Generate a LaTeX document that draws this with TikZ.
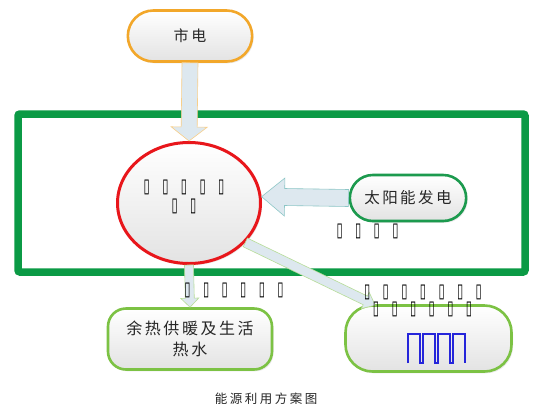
\documentclass[tikz,border=0pt]{standalone}
\usepackage{fontspec}
\setmainfont{Liberation Serif}
\newfontfamily\cjk{Noto Sans CJK SC}
\newfontfamily\dv{DejaVu Sans}
\usetikzlibrary{shapes.misc,shapes.geometric,calc,shadows}
\definecolor{cOrange}{HTML}{F2A72A}
\definecolor{cRed}{HTML}{E8161B}
\definecolor{cFrame}{HTML}{0B9A45}
\definecolor{cSun}{HTML}{1C9A4E}
\definecolor{cLeaf}{HTML}{7CC244}
\definecolor{cArrow}{HTML}{DDE8EF}
\definecolor{cWave}{HTML}{2525DA}
\newcommand\gb{\makebox[18.6pt]{\raisebox{-1.5pt}{\scalebox{0.75}[1.3]{▯}}}}
% block arrow: style, from, to, shaft half-width, head half-width, head length
\newcommand\barrow[6]{%
  \coordinate (bh) at ($(#3)!#6!(#2)$);
  \path[#1] ($(#2)!#4!90:(#3)$) -- ($(bh)!#4!-90:(#2)$) -- ($(bh)!#5!-90:(#2)$)
    -- (#3) -- ($(bh)!#5!90:(#2)$) -- ($(bh)!#4!90:(#2)$) -- ($(#2)!#4!-90:(#3)$) -- cycle;}
\begin{document}
\begin{tikzpicture}[x=1pt,y=-1pt,
  base/.style={shade, top color=white, bottom color=black!11, text=black!85,
    drop shadow={shadow xshift=1.5pt, shadow yshift=-1.8pt, opacity=0.18}},
  lbl/.style={font=\dv\bfseries\fontsize{15}{19}\selectfont, inner sep=0pt, align=center},
  barr/.style={fill=cArrow, line width=0.6pt, line join=miter}]
\useasboundingbox (0,0) rectangle (548,418);
\fill[white] (0,0) rectangle (548,418);
% frame
\draw[cFrame, line width=7.5pt, rounded corners=2pt] (18,114) rectangle (525,272);
% nodes
\node[base, rounded rectangle, draw=cOrange, line width=2.6pt, minimum width=131pt, minimum height=51pt,
  font=\cjk\fontsize{15}{18}\selectfont\addfontfeature{LetterSpace=18}] (sd) at (190,36) {市电};
\node[base, ellipse, draw=cRed, line width=3pt, minimum width=143pt, minimum height=121pt] (core) at (189,203) {};
\node[base, rounded rectangle, draw=cSun, line width=2.6pt, minimum width=123pt, minimum height=46pt,
  font=\cjk\fontsize{15.5}{18}\selectfont\addfontfeature{LetterSpace=16}] (sun) at (408,198) {太阳能发电};
\node[base, draw=cLeaf, line width=2.6pt, rounded corners=18pt, minimum width=164pt, minimum height=61pt,
  align=center, font=\cjk\fontsize{16}{21}\selectfont\addfontfeature{LetterSpace=16}] (heat) at (190,339) {余热供暖及生活\\热水};
\node[base, draw=cLeaf, line width=2.6pt, rounded corners=27pt, minimum width=166pt, minimum height=66pt] (pv) at (428.5,338.5) {};
% arrows
\coordinate (pvin) at ($(pv.north west)+(31,1)$);
\barrow{barr, draw=cOrange!55}{sd.south}{core.north}{8pt}{18pt}{14pt}
\barrow{barr, draw=teal!45}{sun.west}{core.5}{8.5pt}{19pt}{23pt}
\barrow{barr, draw=cLeaf!55}{core.south}{heat.north}{4.5pt}{9pt}{9pt}
\barrow{barr, draw=cLeaf!55}{core.-35}{pvin}{4.8pt}{9pt}{11pt}
% wave
\draw[cWave, line width=1.3pt] ($(pv.center)+(-20.5,24.5)$) -- ++(0,-29) -- ++(12,0) -- ++(0,29) -- ++(3,0)
  -- ++(0,-29) -- ++(12,0) -- ++(0,29) -- ++(3,0)
  -- ++(0,-29) -- ++(12,0) -- ++(0,29) -- ++(3,0)
  -- ++(0,-29) -- ++(12,0) -- ++(0,29);
% labels
\node[lbl] (lcore) at (184,197) {\gb\gb\gb\gb\gb\\\gb\gb};
\node[lbl] (lsun) at (367.5,231) {\gb\gb\gb\gb};
\node[lbl] (ldown) at (234,290) {\gb\gb\gb\gb\gb\gb};
\node[lbl] (ldiag) at (423,292) {\gb\gb\gb\gb\gb\gb\gb};
\node[lbl] (ldiagb) at (422.5,309.5) {\gb\gb\gb\gb\gb\gb};
\node[font=\cjk\fontsize{12.5}{14}\selectfont\addfontfeature{LetterSpace=20}, text=black!85] (cap) at (266,399) {能源利用方案图};
\end{tikzpicture}
\end{document}
